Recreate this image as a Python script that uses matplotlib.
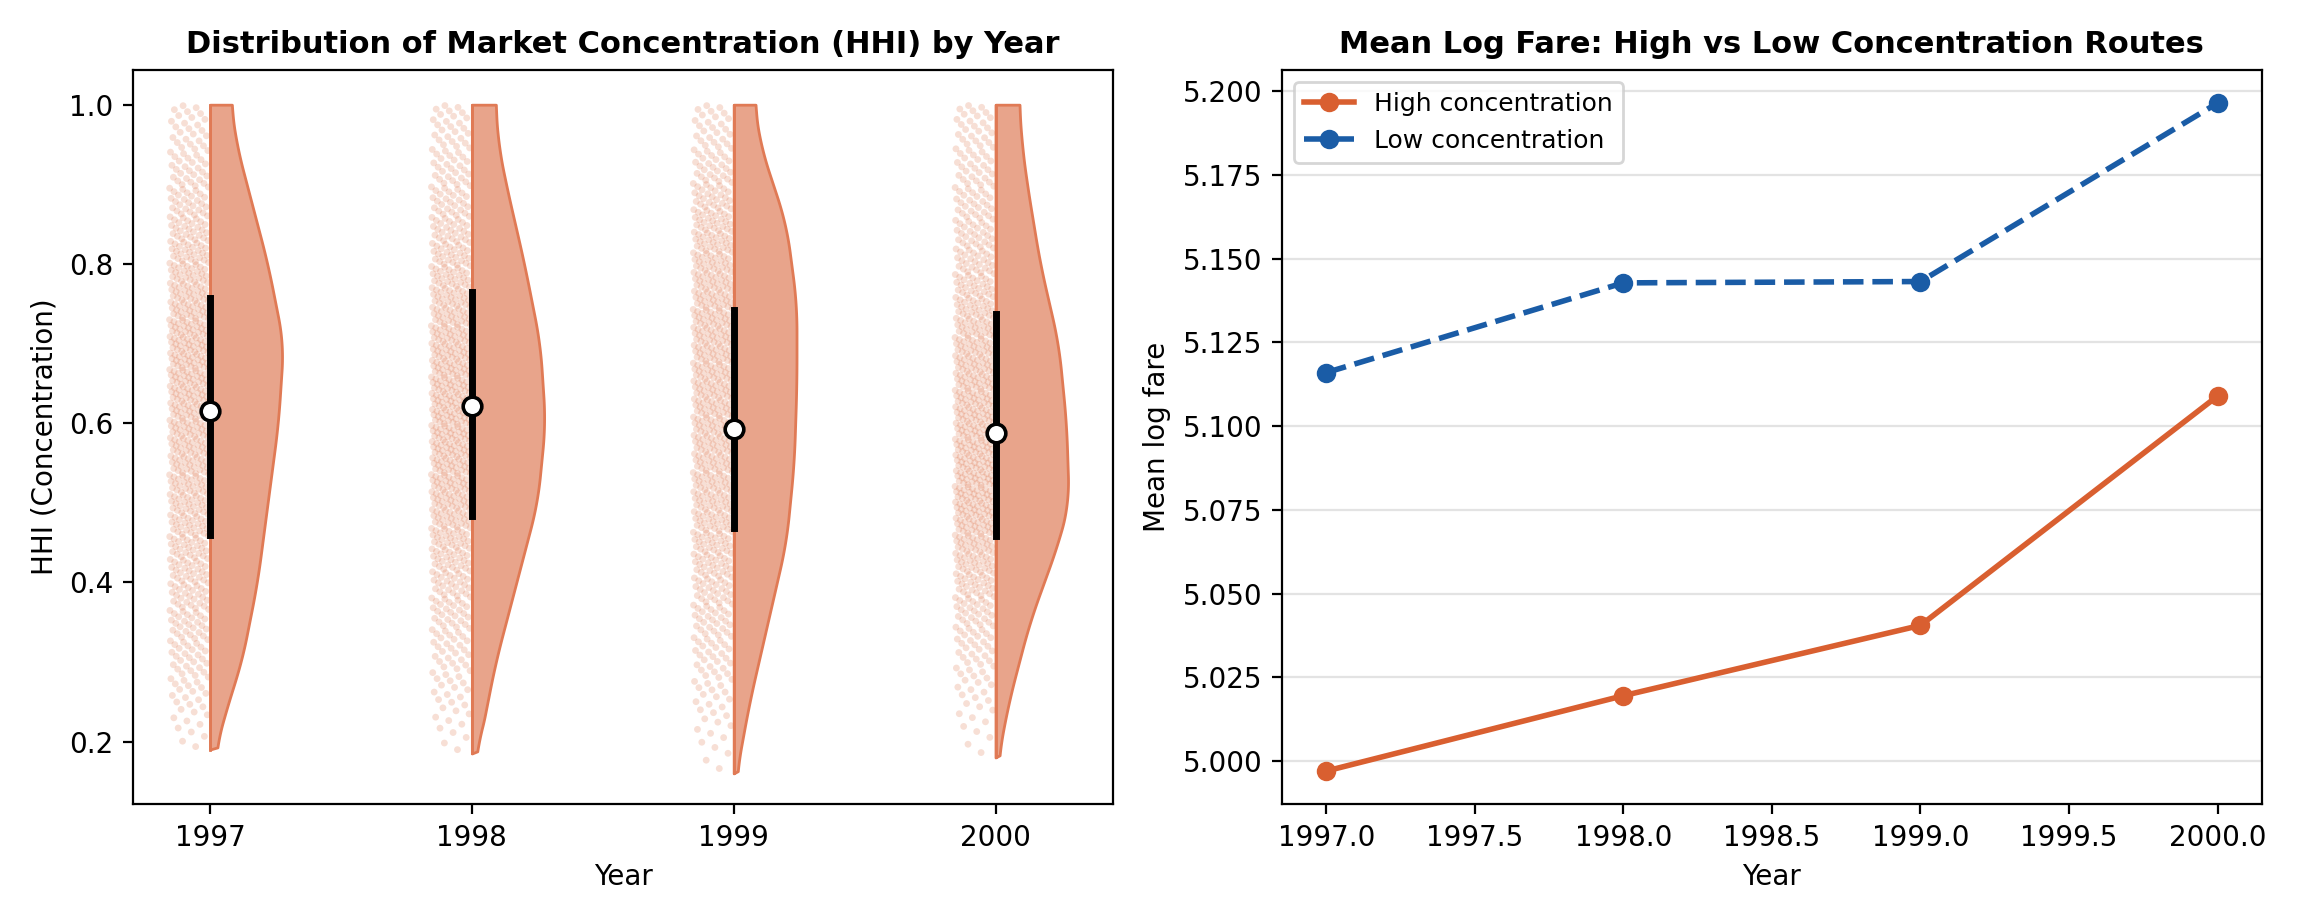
import numpy as np
import matplotlib.pyplot as plt

years = [1997, 1998, 1999, 2000]

# half-violin outline: hhi level -> half width (in year units)
violin_y = {
    1997: [0.19, 0.25, 0.30, 0.40, 0.50, 0.60, 0.70, 0.80, 0.90, 0.95, 1.00],
    1998: [0.185, 0.20, 0.30, 0.40, 0.50, 0.60, 0.70, 0.80, 0.90, 0.95, 1.00],
    1999: [0.16, 0.25, 0.35, 0.45, 0.55, 0.65, 0.75, 0.85, 0.95, 1.00],
    2000: [0.18, 0.25, 0.35, 0.45, 0.50, 0.60, 0.70, 0.80, 0.90, 0.95, 1.00],
}
violin_w = {
    1997: [0.02, 0.07, 0.12, 0.18, 0.22, 0.26, 0.28, 0.22, 0.14, 0.10, 0.08],
    1998: [0.01, 0.03, 0.09, 0.17, 0.25, 0.28, 0.26, 0.20, 0.13, 0.10, 0.09],
    1999: [0.01, 0.06, 0.13, 0.20, 0.23, 0.24, 0.24, 0.20, 0.10, 0.08],
    2000: [0.01, 0.05, 0.13, 0.24, 0.28, 0.27, 0.24, 0.17, 0.12, 0.10, 0.09],
}
medians = [0.615, 0.622, 0.592, 0.587]
q1 = [0.460, 0.483, 0.468, 0.458]
q3 = [0.757, 0.765, 0.742, 0.737]

fare_high = [4.997, 5.0195, 5.0405, 5.109]
fare_low = [5.116, 5.1428, 5.1432, 5.1965]

orange = '#d95f30'
violin_col = '#e8a48b'
blue = '#1a5ca6'


def van_der_corput(n, base):
    out = np.zeros(n)
    for i in range(n):
        f, x, j = 1.0, 0.0, i + 1
        while j > 0:
            f /= base
            x += f * (j % base)
            j //= base
        out[i] = x
    return out


plt.rcParams['font.size'] = 10
fig, (ax1, ax2) = plt.subplots(1, 2, figsize=(11.52, 4.605), dpi=200)

n_pts = 700
offs = van_der_corput(n_pts, 3)
for i, yr in enumerate(years):
    yy = np.array(violin_y[yr])
    ww = np.array(violin_w[yr])
    fine = np.linspace(yy[0], yy[-1], 300)
    wf = np.interp(fine, yy, ww)
    kern = np.ones(25) / 25
    padded = np.concatenate([np.full(12, wf[0]), wf, np.full(12, wf[-1])])
    wf = np.convolve(padded, kern, mode='valid')
    wf[0] = 0.0
    ax1.fill_betweenx(fine, yr, yr + wf, color=violin_col,
                      edgecolor='#e07a55', linewidth=1, zorder=2)
    ax1.plot([yr, yr], [yy[0], yy[-1]], color='#e07a55', lw=1, zorder=2)
    # points placed at quantiles of the outline density, spread sideways
    cdf = np.cumsum(wf)
    cdf = cdf / cdf[-1]
    probs = (np.arange(n_pts) + 0.5) / n_pts
    pts = np.interp(probs, cdf, fine)
    ax1.scatter(yr - 0.15 * offs - 0.005, pts, s=6, color=orange, alpha=0.2,
                edgecolors='none', zorder=1)
    ax1.plot([yr, yr], [q1[i], q3[i]], color='black', lw=2.5, zorder=3)
    ax1.scatter([yr], [medians[i]], s=45, color='white', edgecolors='black',
                linewidths=1.3, zorder=4)

ax1.set_xlim(1996.705, 2000.45)
ax1.set_ylim(0.121, 1.044)
ax1.set_xticks(years)
ax1.set_xlabel('Year')
ax1.set_ylabel('HHI (Concentration)')
ax1.set_title('Distribution of Market Concentration (HHI) by Year', fontweight='bold', fontsize=11)

ax2.plot(years, fare_high, '-o', color=orange, lw=2, label='High concentration')
ax2.plot(years, fare_low, '--o', color=blue, lw=2, label='Low concentration')
ax2.grid(axis='y', alpha=0.35)
ax2.set_xlabel('Year')
ax2.set_ylabel('Mean log fare')
ax2.set_title('Mean Log Fare: High vs Low Concentration Routes', fontweight='bold', fontsize=11)
ax2.yaxis.set_major_formatter(plt.FormatStrFormatter('%.3f'))
ax2.xaxis.set_major_formatter(plt.FormatStrFormatter('%.1f'))
ax2.legend(loc='upper left', fontsize=9)

plt.tight_layout()
plt.savefig('out.png')
